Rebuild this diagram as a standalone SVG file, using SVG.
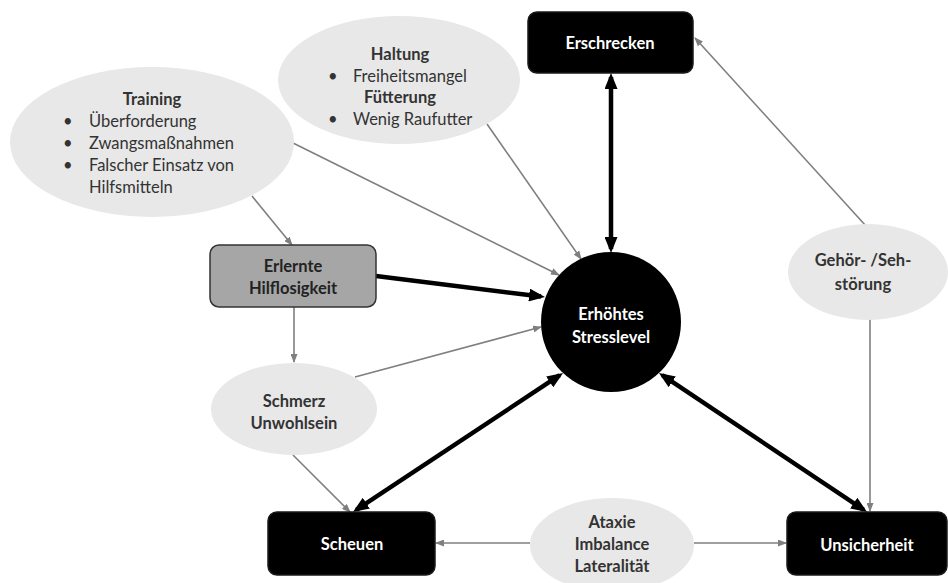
<svg xmlns="http://www.w3.org/2000/svg" width="948" height="583" viewBox="0 0 948 583">
<defs>
<style>
text{font-family:Lato,"Open Sans","Liberation Sans",sans-serif;font-size:16.5px;fill:#333}
.b{font-weight:bold}
.c{text-anchor:middle}
.w{fill:#fff;font-weight:bold;text-anchor:middle}
.ell{fill:#e8e8e8}
.box{fill:#000;stroke:#1a1a1a;stroke-width:1.5}
.thin{stroke:#7f7f7f;stroke-width:1.6;fill:none;marker-end:url(#sm)}
.thick{stroke:#000;stroke-width:4.5;fill:none}
</style>
<marker id="big" viewBox="0 0 16 13" refX="12" refY="6.5" markerWidth="16" markerHeight="13" markerUnits="userSpaceOnUse" orient="auto-start-reverse"><path d="M0,0 L16,6.5 L0,13 z" fill="#000"/></marker>
<marker id="sm" viewBox="0 0 9 7" refX="8" refY="3.5" markerWidth="9" markerHeight="7" markerUnits="userSpaceOnUse" orient="auto"><path d="M0,0 L9,3.5 L0,7 z" fill="#7f7f7f"/></marker>
</defs>
<rect width="948" height="583" fill="#fff"/>

<g id="connectors">
<line class="thin" x1="293" y1="143" x2="559" y2="275"/>
<line class="thin" x1="487" y1="124" x2="581" y2="259"/>
<line class="thin" x1="252" y1="196" x2="292" y2="245"/>
<line class="thin" x1="294" y1="307" x2="294" y2="362"/>
<line class="thin" x1="355" y1="377" x2="541" y2="327"/>
<line class="thin" x1="293" y1="455" x2="350" y2="512"/>
<line class="thin" x1="866" y1="226" x2="695" y2="38"/>
<line class="thin" x1="870" y1="318" x2="870" y2="511"/>
<line class="thin" x1="530" y1="543" x2="436" y2="543"/>
<line class="thin" x1="694" y1="543" x2="786" y2="543"/>
<line class="thick" x1="611" y1="77" x2="611" y2="249" marker-start="url(#big)" marker-end="url(#big)"/>
<line class="thick" x1="376" y1="276" x2="541" y2="296.5" marker-end="url(#big)"/>
<line class="thick" x1="559.7" y1="375.2" x2="356.3" y2="509.8" marker-start="url(#big)" marker-end="url(#big)"/>
<line class="thick" x1="662.3" y1="375.2" x2="863.7" y2="509.8" marker-start="url(#big)" marker-end="url(#big)"/>
</g>

<g id="training">
<ellipse class="ell" cx="152" cy="142" rx="142" ry="75"/>
<text class="b c" x="152" y="105">Training</text>
<text x="63" y="127">•</text><text x="89" y="127">Überforderung</text>
<text x="63" y="149">•</text><text x="89" y="149">Zwangsmaßnahmen</text>
<text x="63" y="171">•</text><text x="89" y="171">Falscher Einsatz von</text>
<text x="89" y="193">Hilfsmitteln</text>
</g>

<g id="haltung">
<ellipse class="ell" cx="399" cy="80" rx="121" ry="64"/>
<text class="b c" x="400" y="60">Haltung</text>
<text x="328" y="82">•</text><text x="353" y="82">Freiheitsmangel</text>
<text class="b c" x="400" y="103">Fütterung</text>
<text x="328" y="125">•</text><text x="353" y="125">Wenig Raufutter</text>
</g>

<g id="erschrecken">
<rect class="box" x="528" y="12" width="165" height="61" rx="9"/>
<text class="w" x="610" y="49">Erschrecken</text>
</g>

<g id="erlernte">
<rect x="210" y="245" width="166" height="62" rx="9" fill="#a6a6a6" stroke="#333" stroke-width="1.5"/>
<text class="b c" x="293" y="272" style="fill:#222">Erlernte</text>
<text class="b c" x="293" y="294" style="fill:#222">Hilflosigkeit</text>
</g>

<g id="stress">
<circle cx="611" cy="322" r="70" fill="#000"/>
<text class="w" x="611" y="320">Erhöhtes</text>
<text class="w" x="611" y="343">Stresslevel</text>
</g>

<g id="gehoer">
<ellipse class="ell" cx="868" cy="272" rx="80" ry="48"/>
<text class="b c" x="863" y="266">Gehör- /Seh-</text>
<text class="b c" x="863" y="290">störung</text>
</g>

<g id="schmerz">
<ellipse class="ell" cx="294" cy="409" rx="83" ry="46"/>
<text class="b c" x="294" y="407">Schmerz</text>
<text class="b c" x="294" y="429">Unwohlsein</text>
</g>

<g id="scheuen">
<rect class="box" x="268" y="512" width="167" height="63" rx="9"/>
<text class="w" x="352" y="550">Scheuen</text>
</g>

<g id="ataxie">
<ellipse class="ell" cx="612" cy="545" rx="82" ry="47"/>
<text class="b c" x="612" y="528">Ataxie</text>
<text class="b c" x="612" y="550">Imbalance</text>
<text class="b c" x="612" y="572">Lateralität</text>
</g>

<g id="unsicherheit">
<rect class="box" x="787" y="512" width="160" height="63" rx="9"/>
<text class="w" x="867" y="551">Unsicherheit</text>
</g>
</svg>
